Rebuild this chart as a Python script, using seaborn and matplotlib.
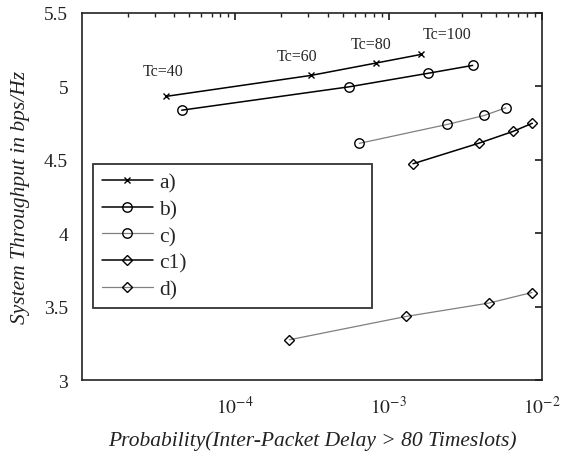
import matplotlib
matplotlib.use("Agg")
import matplotlib.pyplot as plt
import seaborn as sns
import pandas as pd
import numpy as np

labels = ["a)", "b)", "c)", "c1)", "d)"]
x_a = [3.53e-5, 3.12e-4, 8.26e-4, 1.63e-3]
y_a = [4.932, 5.075, 5.159, 5.218]
x_b = [4.47e-5, 5.51e-4, 1.80e-3, 3.53e-3]
y_b = [4.838, 4.997, 5.089, 5.143]
x_c = [6.44e-4, 2.41e-3, 4.20e-3, 5.80e-3]
y_c = [4.612, 4.741, 4.802, 4.854]
x_c1 = [1.44e-3, 3.90e-3, 6.50e-3, 8.65e-3]
y_c1 = [4.473, 4.614, 4.694, 4.749]
x_d = [2.25e-4, 1.30e-3, 4.50e-3, 8.6e-3]
y_d = [3.274, 3.433, 3.524, 3.596]

tc_labels = ["Tc=40", "Tc=60", "Tc=80", "Tc=100"]
tc_x = [3.37e-5, 2.52e-4, 7.67e-4, 2.4e-3]
tc_y = [5.104, 5.206, 5.288, 5.356]

sns.set_theme(style="white")
plt.rcParams["font.family"] = ["Liberation Serif", "DejaVu Serif"]
plt.rcParams["mathtext.fontset"] = "stix"

fig = plt.figure(figsize=(5.63, 4.52), dpi=100)
ax = fig.add_axes([82/563, 1-381/452, 460/563, 367/452])

series = [
    (x_a, y_a, "x", "black", 4),
    (x_b, y_b, "o", "black", 6.8),
    (x_c, y_c, "o", "#808080", 6.8),
    (x_c1, y_c1, "D", "black", 5.3),
    (x_d, y_d, "D", "#808080", 5.3),
]
for (xs, ys, mk, col, ms), lab in zip(series, labels):
    df = pd.DataFrame({"x": xs, "y": ys})
    sns.lineplot(data=df, x="x", y="y", ax=ax, color=col, marker=mk,
                 markersize=ms, markerfacecolor="none",
                 markeredgecolor="black", markeredgewidth=1.0,
                 linewidth=1.1 if col == "black" else 0.9, label=lab)

for t, tx, ty in zip(tc_labels, tc_x, tc_y):
    ax.text(tx, ty, t, ha="center", va="center", fontsize=11.5)

ax.set_xscale("log")
ax.set_xlim(1e-5, 1e-2)
ax.set_ylim(3, 5.5)
ax.set_xticks([1e-4, 1e-3, 1e-2])
ax.set_xticklabels([r"$10^{-4}$", r"$10^{-3}$", r"$10^{-2}$"])
ax.set_yticks([3, 3.5, 4, 4.5, 5, 5.5])
ax.set_yticklabels(["3", "3.5", "4", "4.5", "5", "5.5"])
ax.tick_params(which="both", direction="in", top=True, right=True,
               labelsize=14, colors="#222222", length=5)
ax.tick_params(which="minor", length=3)
ax.tick_params(axis="x", pad=11)
ax.tick_params(axis="y", pad=10)
for s in ax.spines.values():
    s.set_color("#222222")
    s.set_linewidth(1.2)

ax.set_xlabel("Probability(Inter-Packet Delay > 80 Timeslots)",
              fontstyle="italic", fontsize=15.5, labelpad=9, color="#222222")
ax.set_ylabel("System Throughput in bps/Hz", fontstyle="italic",
              fontsize=15.5, labelpad=10, color="#222222")

leg = ax.legend(loc="upper left", bbox_to_anchor=(0.024, 0.199, 0.607, 0.39),
                mode="expand", fontsize=15.5, frameon=True, fancybox=False,
                borderaxespad=0, handlelength=2.35, labelspacing=0.3,
                handletextpad=0.3, borderpad=0.42)
leg.get_frame().set_edgecolor("black")
leg.get_frame().set_linewidth(1.3)

fig.savefig("out.png", dpi=100)
